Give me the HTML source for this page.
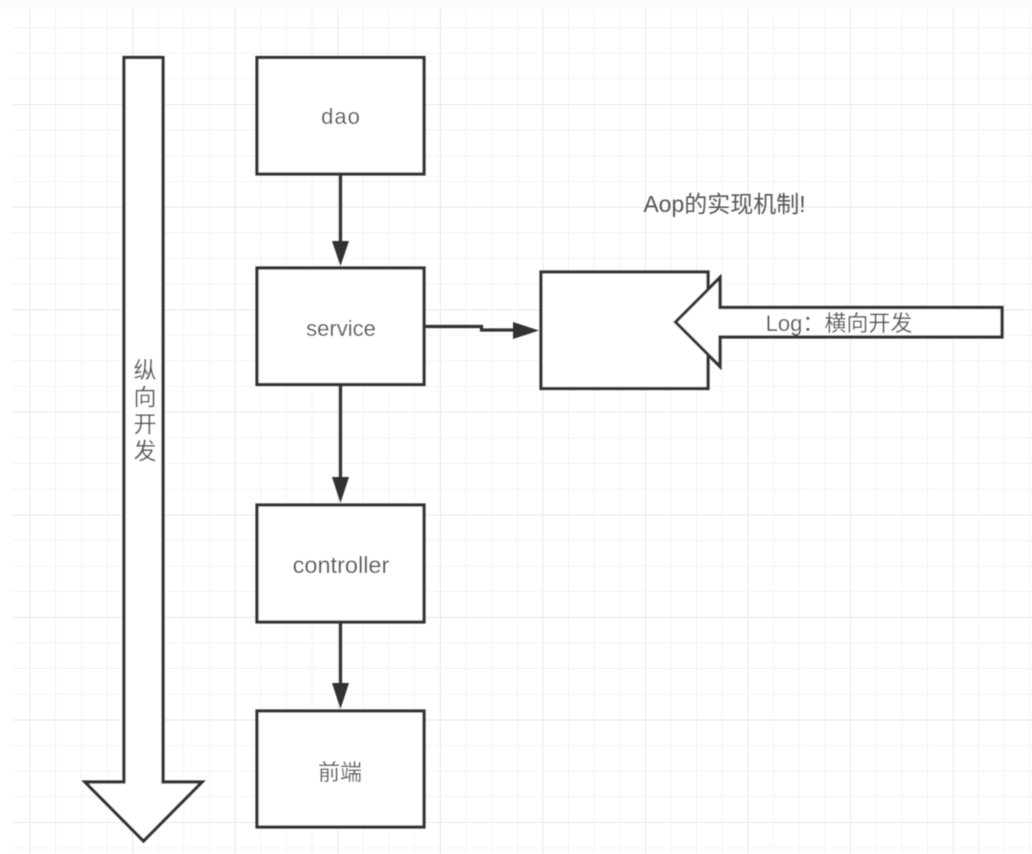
<!DOCTYPE html>
<html>
<head>
<meta charset="utf-8">
<style>
html,body{margin:0;padding:0;background:#fff;}
svg{display:block;}
text{fill:#555;font-family:"Liberation Sans","Noto Sans CJK SC",sans-serif;}
</style>
</head>
<body>
<svg width="1032" height="854" viewBox="0 0 1032 854" xmlns="http://www.w3.org/2000/svg">
<defs>
<pattern id="minor" patternUnits="userSpaceOnUse" x="29.5" y="27" width="25.64" height="25.64">
<path d="M0.5 0V25.64M0 0.5H25.64" stroke="#f5f5f5" stroke-width="1.2" fill="none"/>
</pattern>
<pattern id="major" patternUnits="userSpaceOnUse" x="29.5" y="104" width="102.56" height="102.56">
<path d="M0.5 0V102.56M0 0.5H102.56" stroke="#efefef" stroke-width="1.4" fill="none"/>
</pattern>
<filter id="soft" x="-2%" y="-2%" width="104%" height="104%">
<feGaussianBlur stdDeviation="0.4"/>
</filter>
</defs>
<rect width="1032" height="854" fill="#fff"/>
<rect x="0" y="0" width="1032" height="9" fill="#fcfcfc"/>
<rect x="12" y="9" width="1020" height="845" fill="url(#minor)"/>
<rect x="12" y="9" width="1020" height="845" fill="url(#major)"/>

<g filter="url(#soft)">
<g fill="#fff" stroke="#333" stroke-width="3.200" stroke-linejoin="miter">
<rect x="257" y="57.500" width="167" height="116.500"/>
<rect x="257" y="268" width="167" height="116.500"/>
<rect x="257" y="505" width="167" height="117"/>
<rect x="257" y="711" width="167" height="116"/>
<rect x="541" y="272" width="167" height="116.500"/>
<path d="M124 57.500H163V782H202L143.500 841L85 782H124Z"/>
<path d="M1002 307.500H720V277.500L675.500 322L720 366.500V337H1002Z"/>
</g>

<g fill="none" stroke="#333" stroke-width="3.200">
<path d="M340.500 174V245"/>
<path d="M340.500 384.500V482"/>
<path d="M340.500 622V686"/>
<path d="M424 326.500H481.500V330H516"/>
</g>
<g fill="#333" stroke="none">
<path d="M332 241H349L340.500 266Z"/>
<path d="M332 477H349L340.500 503Z"/>
<path d="M332 683H349L340.500 709Z"/>
<path d="M513 322L539 330.500L513 339Z"/>
</g>

<g font-size="22" text-anchor="middle">
<text x="341" y="124" letter-spacing="1">dao</text>
<text x="341" y="336">service</text>
<text x="341" y="573" font-size="23.500">controller</text>
<text x="340" y="780" font-size="22">前端</text>
<text x="724.500" y="212" font-size="23">Aop的实现机制!</text>
<text x="839" y="331" font-size="22">Log：横向开发</text>
<text x="145" y="378" font-size="23">纵</text>
<text x="145" y="405" font-size="23">向</text>
<text x="145" y="432" font-size="23">开</text>
<text x="145" y="459" font-size="23">发</text>
</g>
</g>
</svg>
</body>
</html>
